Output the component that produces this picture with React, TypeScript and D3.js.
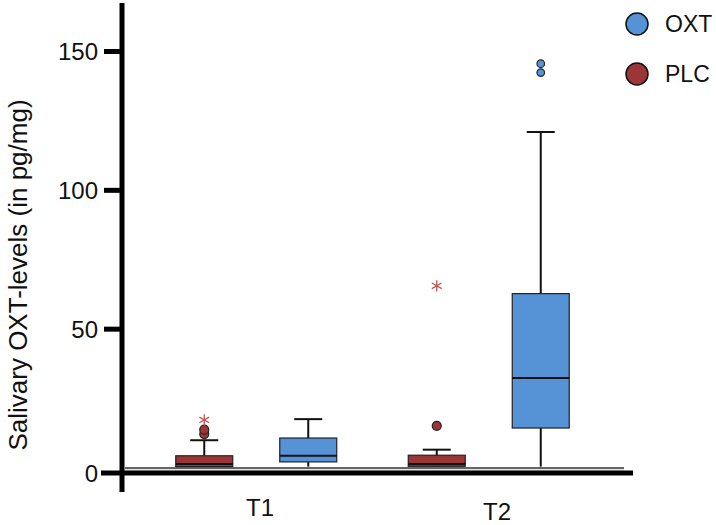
import React from "react";
import * as d3 from "d3";

const categories = ["T1", "T2"];
const groups = ["PLC", "OXT"];
// box stats per category/group: [min, q1, median, q3, max]
const plcStats = [
  [0.5, 0.5, 1.4, 4.4, 10],
  [0.5, 0.6, 1.4, 4.6, 6.6],
];
const oxtStats = [
  [0.5, 2.2, 4.4, 10.8, 17.6],
  [0.5, 14.4, 32.4, 62.8, 121],
];
const plcOutliers = [[12.2, 13.8], [15.2]];
const plcExtremes = [[17.3], [65.6]];
const oxtOutliers = [[], [142.4, 145.6]];
const yTicks = [0, 50, 100, 150];

const COLORS: Record<string, string> = { OXT: "#5592d6", PLC: "#9c3535" };

export default function App() {
  const W = 716;
  const H = 525;
  const y = d3.scaleLinear().domain([0, 150]).range([468, 51.5]);
  const x = d3.scaleBand().domain(categories).range([140, 605]).padding(0);
  const xs = d3.scaleBand().domain(groups).range([-104, 104]).padding(0);
  const boxW = 57;
  const star = d3.symbol(d3.symbolAsterisk, 90)() as string;

  const boxes: any[] = [];
  categories.forEach((c, ci) => {
    groups.forEach((g) => {
      const s = g === "PLC" ? plcStats[ci] : oxtStats[ci];
      const cx = (x(c) as number) + x.bandwidth() / 2 + (xs(g) as number) + xs.bandwidth() / 2;
      boxes.push({ c, g, s, cx, ci });
    });
  });

  return (
    <svg width={W} height={H} style={{ position: "absolute", left: 0, top: 0 }} fontFamily="Liberation Sans, Arial, sans-serif">
      <rect width={W} height={H} fill="#fff" />
      <line x1={125} x2={624} y1={y(0)} y2={y(0)} stroke="#333" strokeWidth={1.3} />
      <line x1={125} x2={624} y1={y(0) + 2} y2={y(0) + 2} stroke="#bbb" strokeWidth={0.8} />
      {boxes.map((b, i) => {
        const [mn, q1, md, q3, mx] = b.s;
        const col = COLORS[b.g];
        return (
          <g key={i}>
            <line x1={b.cx} x2={b.cx} y1={y(mx)} y2={y(q3)} stroke="#111" strokeWidth={2} />
            <line x1={b.cx} x2={b.cx} y1={y(q1)} y2={y(mn)} stroke="#111" strokeWidth={2} />
            <line x1={b.cx - 14} x2={b.cx + 14} y1={y(mx)} y2={y(mx)} stroke="#111" strokeWidth={2} />
            <rect x={b.cx - boxW / 2} y={y(q3)} width={boxW} height={y(q1) - y(q3)} fill={col} stroke="#222" strokeWidth={1.2} />
            <line x1={b.cx - boxW / 2} x2={b.cx + boxW / 2} y1={y(md)} y2={y(md)} stroke="#111" strokeWidth={2} />
          </g>
        );
      })}
      {boxes.map((b, i) => {
        const outs = b.g === "PLC" ? plcOutliers[b.ci] : oxtOutliers[b.ci];
        const r = b.g === "PLC" ? 4.5 : 3.8;
        return outs.map((v: number, j: number) => (
          <circle key={`o${i}-${j}`} cx={b.cx} cy={y(v)} r={r} fill={COLORS[b.g]} stroke="#222" strokeWidth={1.2} />
        ));
      })}
      {boxes.filter((b) => b.g === "PLC").map((b, i) =>
        plcExtremes[b.ci].map((v, j) => (
          <path key={`e${i}-${j}`} d={star} transform={`translate(${b.cx},${y(v)})`} fill="none" stroke="#c05555" strokeWidth={1.3} />
        ))
      )}
      <line x1={122} x2={122} y1={3} y2={492} stroke="#000" strokeWidth={5} />
      <line x1={101} x2={633} y1={473} y2={473} stroke="#000" strokeWidth={5} />
      {yTicks.filter((t) => t > 0).map((t) => (
        <line key={t} x1={104} x2={122} y1={y(t)} y2={y(t)} stroke="#000" strokeWidth={5} />
      ))}
      {yTicks.map((t) => (
        <text key={`l${t}`} x={98} y={(t === 0 ? 473 : y(t)) + 8.5} textAnchor="end" fontSize={24} fill="#111">{t}</text>
      ))}
      <text x={260} y={516} textAnchor="middle" fontSize={24} fill="#111">T1</text>
      <text x={497} y={520} textAnchor="middle" fontSize={24} fill="#111">T2</text>
      <text transform="translate(27,275) rotate(-90)" textAnchor="middle" fontSize={26} fill="#111">Salivary OXT-levels (in pg/mg)</text>
      {["OXT", "PLC"].map((g, i) => (
        <g key={g}>
          <circle cx={637} cy={24 + i * 50} r={11} fill={COLORS[g]} stroke="#111" strokeWidth={1.5} />
          <text x={665} y={32 + i * 50} fontSize={23} fill="#111">{g}</text>
        </g>
      ))}
    </svg>
  );
}
